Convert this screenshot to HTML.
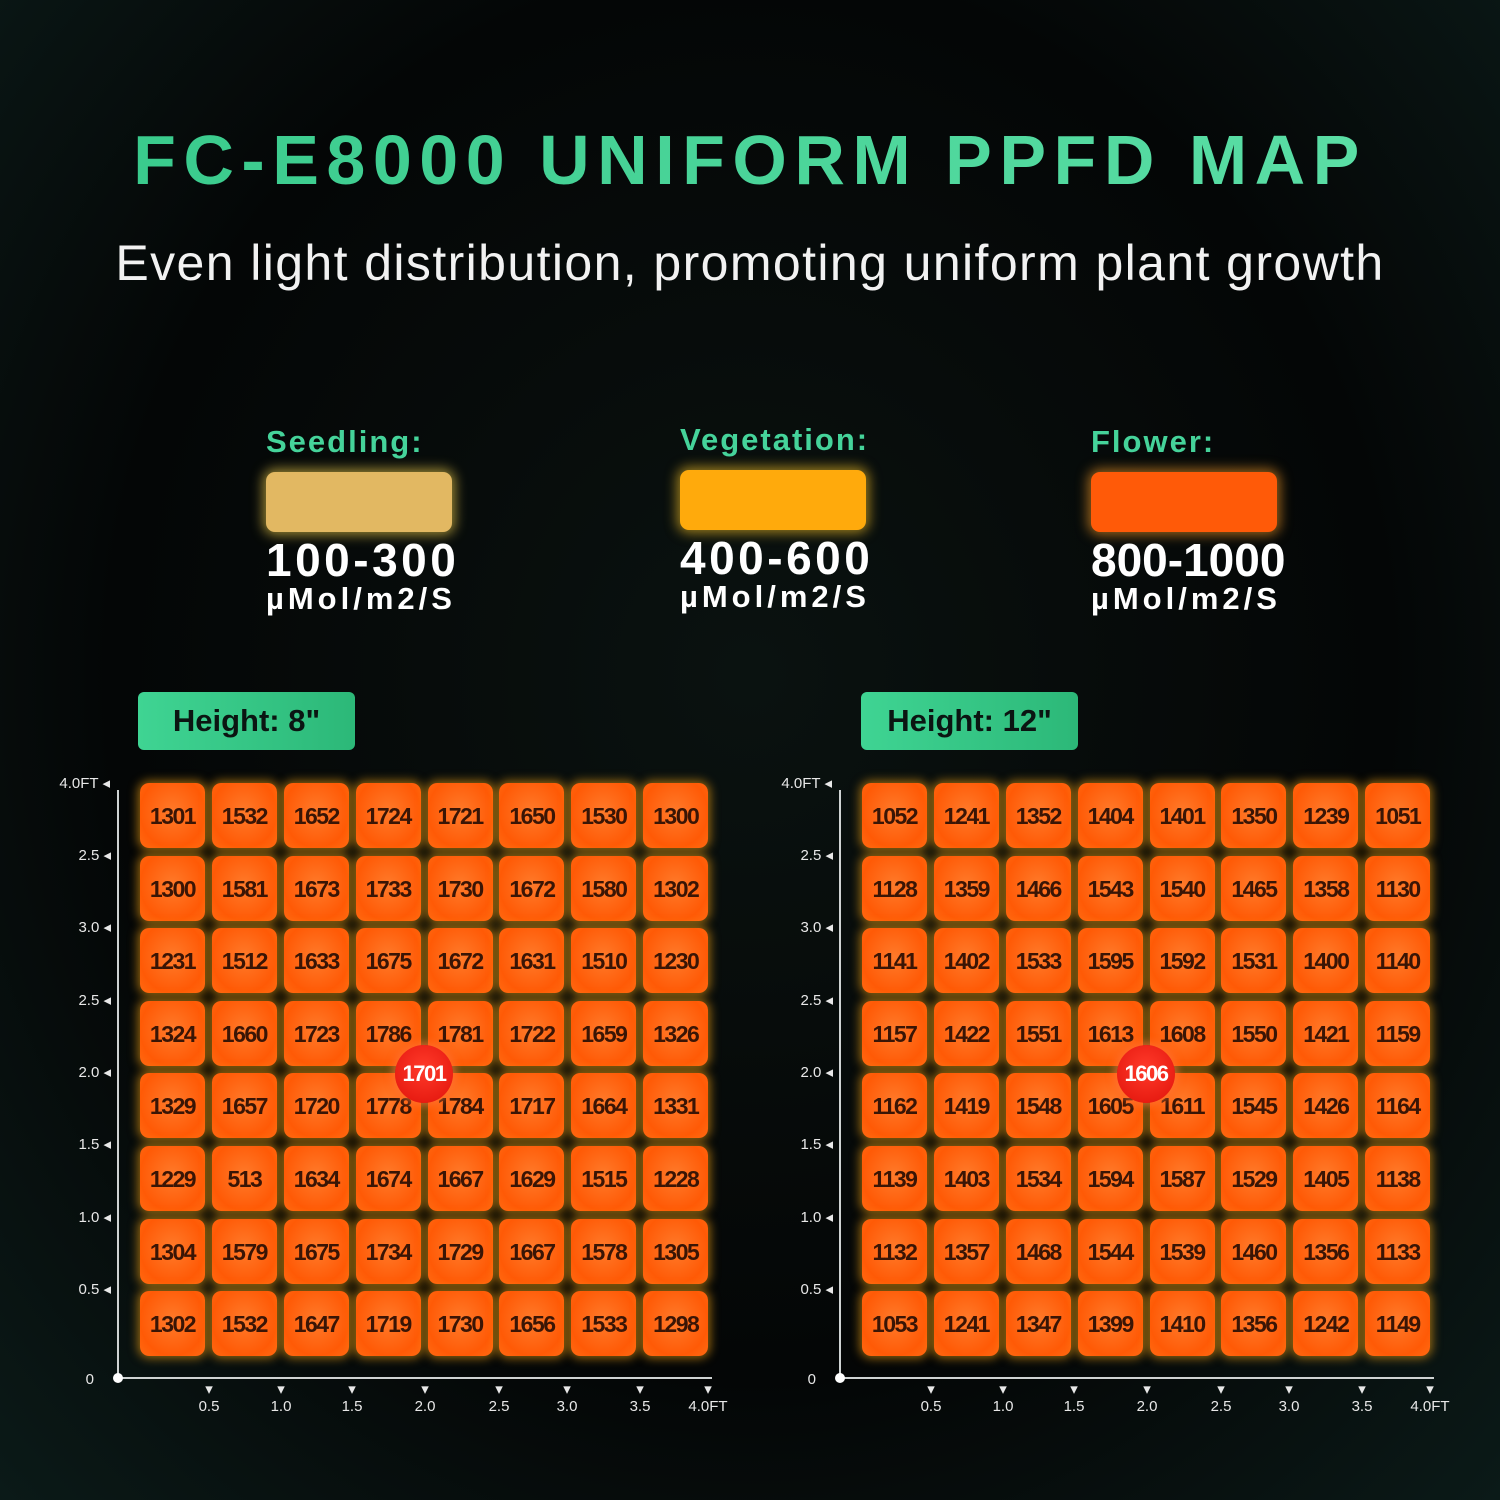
<!DOCTYPE html>
<html><head><meta charset="utf-8"><style>
*{margin:0;padding:0;box-sizing:border-box}
body{width:1500px;height:1500px;background:#050707;position:relative;overflow:hidden;font-family:"Liberation Sans",sans-serif;color:#fff}
.bg{position:absolute;inset:0;background:radial-gradient(ellipse at 50% 45%,#0a1210 0%,#040606 60%,#0b1a18 100%)}
h1{position:absolute;top:120px;left:0;width:1500px;text-align:center;font-size:70px;font-weight:900;letter-spacing:7.5px;color:#3fd49a;background:linear-gradient(90deg,#36c98a,#5ee0a8);-webkit-background-clip:text;background-clip:text;-webkit-text-fill-color:transparent}
.sub{position:absolute;top:234px;left:0;width:1500px;text-align:center;font-size:50px;color:#f2f2f2;letter-spacing:1.4px}
.leg{position:absolute;width:260px}
.leg .t{color:#45d39a;font-weight:bold;font-size:31px;letter-spacing:2px}
.leg .sw{width:186px;height:60px;border-radius:9px;margin-top:12px}
.leg .v{font-weight:bold;font-size:46px;margin-top:6px;line-height:44px;letter-spacing:3.5px}
.leg .u{font-weight:bold;font-size:31px;line-height:34px;letter-spacing:4px}
.hb{position:absolute;top:692px;width:217px;height:58px;border-radius:6px;background:linear-gradient(90deg,#3fd493,#2cb878);color:#0b1512;font-weight:bold;font-size:31px;line-height:58px;text-align:center}
.grid{position:absolute;top:783px;display:grid;grid-template-columns:repeat(8,65px);column-gap:6.9px;row-gap:7.6px}
.grid div{height:65px;border-radius:9px;background:radial-gradient(ellipse at 50% 45%,#ff7a2a,#ff5a06 70%,#ff6a12);box-shadow:0 0 10px 2px rgba(255,170,20,.6);color:#3a1505;font-weight:bold;font-size:23px;letter-spacing:-1.5px;line-height:67px;text-align:center}
.ax{position:absolute;background:#cfd3d3}
.yl{position:absolute;font-size:15px;color:#e8e8e8;text-align:right;width:60px}
.xl{position:absolute;font-size:15px;color:#e8e8e8;width:60px;text-align:center}
.badge{position:absolute;width:58px;height:58px;border-radius:50%;background:radial-gradient(circle at 50% 40%,#ff3a2a,#e0120a);box-shadow:0 0 8px 3px rgba(255,120,60,.6);color:#fff;font-weight:bold;font-size:22px;letter-spacing:-1.5px;text-align:center;line-height:58px}
</style></head><body>
<div class="bg"></div>
<h1>FC-E8000 UNIFORM PPFD MAP</h1>
<div class="sub">Even light distribution, promoting uniform plant growth</div>

<div class="leg" style="left:266px;top:424px"><div class="t">Seedling:</div><div class="sw" style="background:#e2b862;box-shadow:0 0 12px 3px rgba(255,220,80,.6)"></div><div class="v">100-300</div><div class="u">µMol/m2/S</div></div>
<div class="leg" style="left:680px;top:422px"><div class="t">Vegetation:</div><div class="sw" style="background:#ffaa0c;box-shadow:0 0 12px 3px rgba(255,200,40,.6)"></div><div class="v">400-600</div><div class="u">µMol/m2/S</div></div>
<div class="leg" style="left:1091px;top:424px"><div class="t">Flower:</div><div class="sw" style="background:#ff5a08;box-shadow:0 0 12px 3px rgba(255,160,40,.6)"></div><div class="v" style="letter-spacing:0">800-1000</div><div class="u">µMol/m2/S</div></div>

<div class="hb" style="left:138px">Height: 8"</div>
<div class="hb" style="left:861px">Height: 12"</div>

<!-- left axes -->
<div class="ax" style="left:117px;top:790px;width:2px;height:589px"></div>
<div class="ax" style="left:117px;top:1377px;width:595px;height:2px"></div>
<div class="ax" style="left:113px;top:1373px;width:10px;height:10px;border-radius:50%;background:#fff"></div>
<div class="yl" style="left:50px;top:774px">4.0FT ◂</div>
<div class="yl" style="left:51px;top:846px">2.5 ◂</div>
<div class="yl" style="left:51px;top:918px">3.0 ◂</div>
<div class="yl" style="left:51px;top:991px">2.5 ◂</div>
<div class="yl" style="left:51px;top:1063px">2.0 ◂</div>
<div class="yl" style="left:51px;top:1135px">1.5 ◂</div>
<div class="yl" style="left:51px;top:1208px">1.0 ◂</div>
<div class="yl" style="left:51px;top:1280px">0.5 ◂</div>
<div class="yl" style="left:34px;top:1371px">0</div>
<div class="xl" style="left:179px;top:1380px">▾<br>0.5</div>
<div class="xl" style="left:251px;top:1380px">▾<br>1.0</div>
<div class="xl" style="left:322px;top:1380px">▾<br>1.5</div>
<div class="xl" style="left:395px;top:1380px">▾<br>2.0</div>
<div class="xl" style="left:469px;top:1380px">▾<br>2.5</div>
<div class="xl" style="left:537px;top:1380px">▾<br>3.0</div>
<div class="xl" style="left:610px;top:1380px">▾<br>3.5</div>
<div class="xl" style="left:678px;top:1380px">▾<br>4.0FT</div>

<div class="grid" style="left:140px">
<div>1301</div><div>1532</div><div>1652</div><div>1724</div><div>1721</div><div>1650</div><div>1530</div><div>1300</div>
<div>1300</div><div>1581</div><div>1673</div><div>1733</div><div>1730</div><div>1672</div><div>1580</div><div>1302</div>
<div>1231</div><div>1512</div><div>1633</div><div>1675</div><div>1672</div><div>1631</div><div>1510</div><div>1230</div>
<div>1324</div><div>1660</div><div>1723</div><div>1786</div><div>1781</div><div>1722</div><div>1659</div><div>1326</div>
<div>1329</div><div>1657</div><div>1720</div><div>1778</div><div>1784</div><div>1717</div><div>1664</div><div>1331</div>
<div>1229</div><div>513</div><div>1634</div><div>1674</div><div>1667</div><div>1629</div><div>1515</div><div>1228</div>
<div>1304</div><div>1579</div><div>1675</div><div>1734</div><div>1729</div><div>1667</div><div>1578</div><div>1305</div>
<div>1302</div><div>1532</div><div>1647</div><div>1719</div><div>1730</div><div>1656</div><div>1533</div><div>1298</div>
</div>
<div class="badge" style="left:395px;top:1045px">1701</div>

<!-- right axes -->
<div class="ax" style="left:839px;top:790px;width:2px;height:589px"></div>
<div class="ax" style="left:839px;top:1377px;width:595px;height:2px"></div>
<div class="ax" style="left:835px;top:1373px;width:10px;height:10px;border-radius:50%;background:#fff"></div>
<div class="yl" style="left:772px;top:774px">4.0FT ◂</div>
<div class="yl" style="left:773px;top:846px">2.5 ◂</div>
<div class="yl" style="left:773px;top:918px">3.0 ◂</div>
<div class="yl" style="left:773px;top:991px">2.5 ◂</div>
<div class="yl" style="left:773px;top:1063px">2.0 ◂</div>
<div class="yl" style="left:773px;top:1135px">1.5 ◂</div>
<div class="yl" style="left:773px;top:1208px">1.0 ◂</div>
<div class="yl" style="left:773px;top:1280px">0.5 ◂</div>
<div class="yl" style="left:756px;top:1371px">0</div>
<div class="xl" style="left:901px;top:1380px">▾<br>0.5</div>
<div class="xl" style="left:973px;top:1380px">▾<br>1.0</div>
<div class="xl" style="left:1044px;top:1380px">▾<br>1.5</div>
<div class="xl" style="left:1117px;top:1380px">▾<br>2.0</div>
<div class="xl" style="left:1191px;top:1380px">▾<br>2.5</div>
<div class="xl" style="left:1259px;top:1380px">▾<br>3.0</div>
<div class="xl" style="left:1332px;top:1380px">▾<br>3.5</div>
<div class="xl" style="left:1400px;top:1380px">▾<br>4.0FT</div>

<div class="grid" style="left:862px">
<div>1052</div><div>1241</div><div>1352</div><div>1404</div><div>1401</div><div>1350</div><div>1239</div><div>1051</div>
<div>1128</div><div>1359</div><div>1466</div><div>1543</div><div>1540</div><div>1465</div><div>1358</div><div>1130</div>
<div>1141</div><div>1402</div><div>1533</div><div>1595</div><div>1592</div><div>1531</div><div>1400</div><div>1140</div>
<div>1157</div><div>1422</div><div>1551</div><div>1613</div><div>1608</div><div>1550</div><div>1421</div><div>1159</div>
<div>1162</div><div>1419</div><div>1548</div><div>1605</div><div>1611</div><div>1545</div><div>1426</div><div>1164</div>
<div>1139</div><div>1403</div><div>1534</div><div>1594</div><div>1587</div><div>1529</div><div>1405</div><div>1138</div>
<div>1132</div><div>1357</div><div>1468</div><div>1544</div><div>1539</div><div>1460</div><div>1356</div><div>1133</div>
<div>1053</div><div>1241</div><div>1347</div><div>1399</div><div>1410</div><div>1356</div><div>1242</div><div>1149</div>
</div>
<div class="badge" style="left:1117px;top:1045px">1606</div>
</body></html>
